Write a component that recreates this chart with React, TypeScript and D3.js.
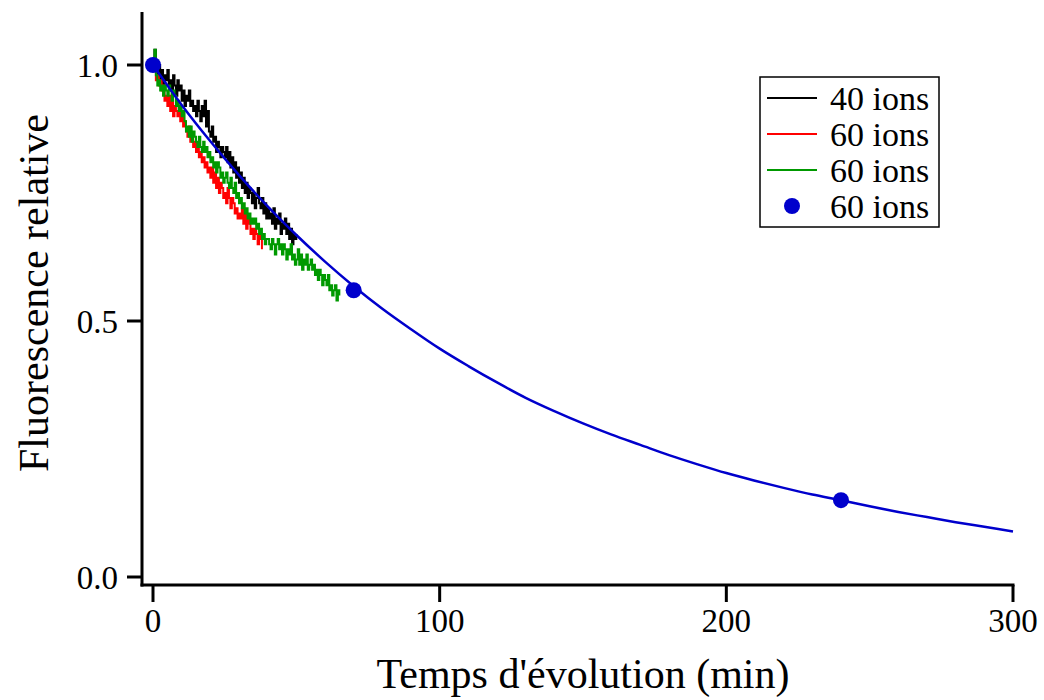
import React from "react";
import * as d3 from "d3";

// ---- data ----
const STEP = 0.5; // minutes between samples of measured traces

const ions40Black = [
  1.00, 1.03, 0.99, 0.98, 1.00, 0.97, 0.99, 0.96, 0.98, 0.97,
  0.99, 0.96, 0.97, 0.95, 0.98, 0.96, 0.94, 0.97, 0.95, 0.96,
  0.93, 0.95, 0.92, 0.94, 0.93, 0.95, 0.92, 0.93, 0.91, 0.92,
  0.90, 0.93, 0.91, 0.89, 0.92, 0.90, 0.93, 0.88, 0.91, 0.87,
  0.86, 0.88, 0.85, 0.86, 0.83, 0.85, 0.84, 0.82, 0.84, 0.83,
  0.82, 0.84, 0.81, 0.83, 0.80, 0.82, 0.79, 0.81, 0.78, 0.80,
  0.77, 0.79, 0.76, 0.78, 0.75, 0.77, 0.74, 0.76, 0.75, 0.73,
  0.75, 0.72, 0.74, 0.76, 0.73, 0.72, 0.74, 0.71, 0.73, 0.70,
  0.72, 0.70, 0.71, 0.69, 0.72, 0.68, 0.70, 0.69, 0.71, 0.67,
  0.69, 0.68, 0.70, 0.67, 0.69, 0.66, 0.68, 0.65, 0.67, 0.66,
  0.67,
];

const ions60Red = [
  1.00, 0.99, 0.97, 0.98, 0.96, 0.97, 0.95, 0.96, 0.93, 0.94,
  0.92, 0.94, 0.91, 0.93, 0.90, 0.92, 0.91, 0.90, 0.92, 0.89,
  0.90, 0.88, 0.89, 0.87, 0.86, 0.88, 0.85, 0.86, 0.84, 0.85,
  0.83, 0.84, 0.82, 0.83, 0.81, 0.82, 0.80, 0.81, 0.79, 0.80,
  0.78, 0.80, 0.77, 0.79, 0.76, 0.78, 0.75, 0.77, 0.76, 0.74,
  0.75, 0.73, 0.76, 0.74, 0.72, 0.74, 0.73, 0.71, 0.72, 0.70,
  0.71, 0.70, 0.72, 0.69, 0.71, 0.68, 0.70, 0.69, 0.67, 0.68,
  0.66, 0.68, 0.67, 0.65, 0.67, 0.66,
  0.64,
];

const ions60Green = [
  1.00, 1.03, 0.98, 0.96, 0.97, 0.95, 0.96, 0.94, 0.96, 0.95,
  0.94, 0.96, 0.95, 0.93, 0.95, 0.94, 0.92, 0.93, 0.91, 0.92,
  0.90, 0.91, 0.89, 0.87, 0.88, 0.86, 0.88, 0.85, 0.87, 0.86,
  0.85, 0.84, 0.86, 0.84, 0.83, 0.85, 0.83, 0.84, 0.82, 0.83,
  0.81, 0.82, 0.80, 0.81, 0.79, 0.81, 0.80, 0.78, 0.79, 0.77,
  0.78, 0.79, 0.77, 0.76, 0.78, 0.76, 0.75, 0.77, 0.74, 0.75,
  0.73, 0.74, 0.72, 0.73, 0.71, 0.72, 0.70, 0.71, 0.69, 0.70,
  0.69, 0.70, 0.68, 0.69, 0.67, 0.68, 0.66, 0.67, 0.65, 0.66,
  0.66, 0.65, 0.64, 0.66, 0.65, 0.63, 0.65, 0.66, 0.64, 0.65,
  0.63, 0.65, 0.64, 0.62, 0.64, 0.63, 0.65, 0.62, 0.63, 0.61,
  0.62, 0.64, 0.61, 0.63, 0.60, 0.62, 0.61, 0.63, 0.60, 0.61,
  0.62, 0.60, 0.61, 0.59, 0.60, 0.58, 0.60, 0.59, 0.57, 0.59,
  0.58, 0.57, 0.59, 0.56, 0.57, 0.55, 0.56, 0.57, 0.54, 0.56,
  0.55,
];

// fitted curve (blue) read every 10 min
const fitTimes = [0, 10, 20, 30, 40, 50, 60, 70, 80, 90, 100, 110, 120, 130, 140, 150,
  160, 170, 180, 190, 200, 210, 220, 230, 240, 250, 260, 270, 280, 290, 300];
const fitValues = [1.0, 0.922, 0.851, 0.785, 0.724, 0.668, 0.616, 0.568, 0.524, 0.484,
  0.446, 0.412, 0.380, 0.350, 0.324, 0.300, 0.278, 0.258, 0.238, 0.220, 0.203, 0.188,
  0.174, 0.161, 0.150, 0.138, 0.127, 0.117, 0.107, 0.098, 0.089];

// blue dots
const dotTimes = [0, 70, 240];
const dotValues = [1.0, 0.56, 0.15];

const xTicks = [0, 100, 200, 300];
const yTicks = [0.0, 0.5, 1.0];

const legendLabels = ["40 ions", "60 ions", "60 ions", "60 ions"];
const COLORS = { black: "#000000", red: "#ff0000", green: "#009900", blue: "#0000cc" };

export default function App() {
  const x = d3.scaleLinear().domain([0, 300]).range([153, 1013]);
  const y = d3.scaleLinear().domain([0, 1]).range([577, 65]);
  const axisLeftX = 142;
  const axisBottomY = 585;
  const axisTopY = 12;
  const font = "'Liberation Serif', 'Times New Roman', serif";

  const trace = (vals: number[]) =>
    d3
      .line<number>()
      .x((_, i) => x(i * STEP))
      .y((v) => y(v))
      .curve(d3.curveStepAfter)(vals) || "";

  const fitLine =
    d3
      .line<number>()
      .x((_, i) => x(fitTimes[i]))
      .y((v) => y(v))
      .curve(d3.curveMonotoneX)(fitValues) || "";

  const legendX = 760;
  const legendY = 77;
  const rowH = 36;
  const legendColors = [COLORS.black, COLORS.red, COLORS.green];

  return (
    <svg
      width={1044}
      height={700}
      style={{ position: "absolute", left: 0, top: 0, background: "#fff" }}
      fontFamily={font}
    >
      <rect x={0} y={0} width={1044} height={700} fill="#fff" />
      {/* traces */}
      <path d={trace(ions40Black)} fill="none" stroke={COLORS.black} strokeWidth={2} />
      <path d={trace(ions60Red)} fill="none" stroke={COLORS.red} strokeWidth={2} />
      <path d={trace(ions60Green)} fill="none" stroke={COLORS.green} strokeWidth={2} />
      <path d={fitLine} fill="none" stroke={COLORS.blue} strokeWidth={2.5} />
      {dotTimes.map((t, i) => (
        <circle key={i} cx={x(t)} cy={y(dotValues[i])} r={8} fill={COLORS.blue} />
      ))}

      {/* axes */}
      <line x1={axisLeftX} x2={axisLeftX} y1={axisTopY} y2={axisBottomY + 1.5} stroke="#000" strokeWidth={3} />
      <line x1={axisLeftX - 1.5} x2={x(300) + 1.5} y1={axisBottomY} y2={axisBottomY} stroke="#000" strokeWidth={3} />
      {yTicks.map((t) => (
        <g key={t}>
          <line x1={axisLeftX - 15} x2={axisLeftX} y1={y(t)} y2={y(t)} stroke="#000" strokeWidth={3} />
          <text x={118} y={y(t)} dy="0.35em" textAnchor="end" fontSize={33}>
            {t.toFixed(1)}
          </text>
        </g>
      ))}
      {xTicks.map((t) => (
        <g key={t}>
          <line x1={x(t)} x2={x(t)} y1={axisBottomY} y2={axisBottomY + 17} stroke="#000" strokeWidth={3} />
          <text x={x(t)} y={632} textAnchor="middle" fontSize={33}>
            {t}
          </text>
        </g>
      ))}

      {/* axis titles */}
      <text x={583} y={688} textAnchor="middle" fontSize={42}>
        Temps d'évolution (min)
      </text>
      <text
        transform={`translate(48, 293) rotate(-90)`}
        textAnchor="middle"
        fontSize={42}
      >
        Fluorescence relative
      </text>

      {/* legend */}
      <rect x={legendX} y={legendY} width={179} height={150} fill="#fff" stroke="#000" strokeWidth={1.5} />
      {legendLabels.map((lab, i) => {
        const cy = legendY + 21 + i * rowH;
        return (
          <g key={i}>
            {i < 3 ? (
              <line x1={767} x2={817} y1={cy} y2={cy} stroke={legendColors[i]} strokeWidth={2} />
            ) : (
              <circle cx={792} cy={cy} r={8} fill={COLORS.blue} />
            )}
            <text x={830} y={cy} dy="0.35em" fontSize={34}>
              {lab}
            </text>
          </g>
        );
      })}
    </svg>
  );
}
